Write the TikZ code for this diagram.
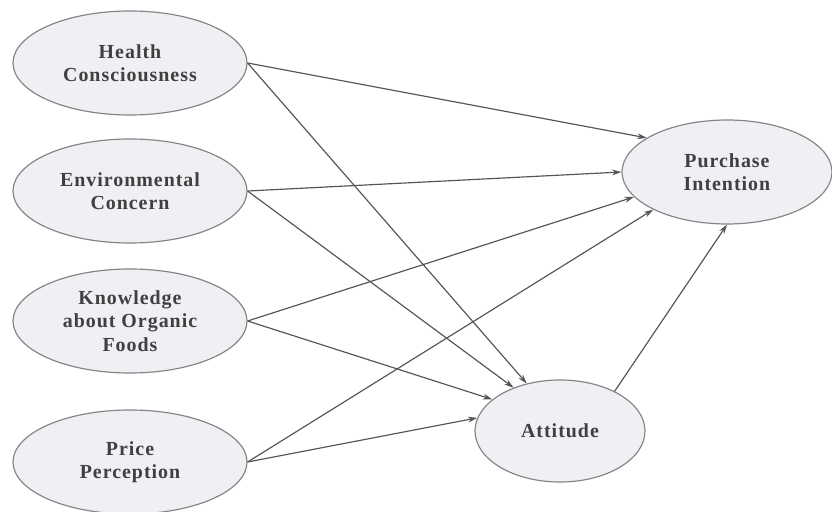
\documentclass[tikz,border=0pt]{standalone}
\usepackage{fontspec}
\setmainfont{Liberation Serif}
\usepackage{tikz}
\usetikzlibrary{shapes.geometric, arrows.meta}

\definecolor{bubble}{HTML}{EFEFF4}
\definecolor{rim}{HTML}{858585}
\definecolor{ink}{HTML}{404040}
\definecolor{wire}{HTML}{555555}

\tikzset{
  construct/.style={ellipse, draw=rim, fill=bubble, line width=1pt, inner sep=0pt,
    minimum width=7.02cm, minimum height=3.12cm, align=center, text=ink,
    font=\fontsize{17}{20}\selectfont\bfseries\addfontfeatures{LetterSpace=5}},
  path/.style={->, draw=wire, line width=1pt}
}

\begin{document}
\begin{tikzpicture}[x=0.03cm, y=-0.03cm, >={Stealth[length=8pt, width=5pt]}]
        \useasboundingbox (0,0) rectangle (832,512);
        % exogenous constructs
        \node[construct] (hc)  at (130,63)  {Health\\Consciousness};
        \node[construct] (ec)  at (130,191) {Environmental\\Concern};
        \node[construct] (kof) at (130,321) {Knowledge\\about Organic\\Foods};
        \node[construct] (pp)  at (130,462) {Price\\Perception};
        % endogenous constructs
        \node[construct, minimum width=6.3cm] (pi) at (727,172) {Purchase\\Intention};
        \node[construct, minimum width=5.1cm, minimum height=3.06cm] (att) at (560,431) {Attitude};
        % paths
        \draw[path] (hc.east)  -- (pi.157);
        \draw[path] (hc.east)  -- (att.125);
        \draw[path] (ec.east)  -- (pi.180);
        \draw[path] (ec.east)  -- (att.137);
        \draw[path] (kof.east) -- (pi.195);
        \draw[path] (kof.east) -- (att.155);
        \draw[path] (pp.east)  -- (pi.207);
        \draw[path] (pp.east)  -- (att.171);
        \draw[path] (att.36)   -- (pi.270);
    \end{tikzpicture}
\end{document}
